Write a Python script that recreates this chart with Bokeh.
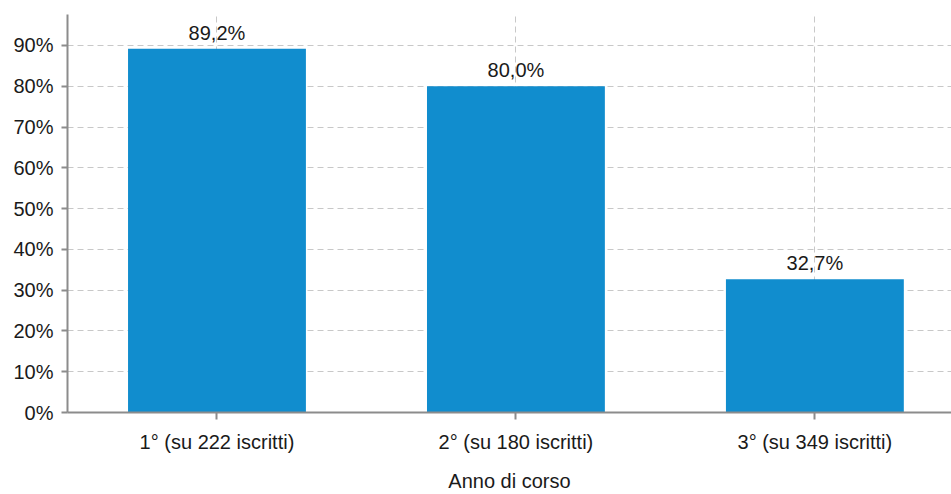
from bokeh.plotting import figure
from bokeh.models import ColumnDataSource, FixedTicker, PrintfTickFormatter, Range1d
from bokeh.embed import file_html
from bokeh.resources import INLINE
from bokeh.core.properties import value

categories = ["1° (su 222 iscritti)", "2° (su 180 iscritti)", "3° (su 349 iscritti)"]
values = [89.2, 80.0, 32.7]
y_ticks = [0, 10, 20, 30, 40, 50, 60, 70, 80, 90]
x_title = "Anno di corso"

xs = [i + 0.5 for i in range(len(categories))]
labels = [f"{v:.1f}".replace(".", ",") + "%" for v in values]
src = ColumnDataSource(dict(x=xs, top=values, label=labels))

FONT = "Liberation Sans"
FS = "20px"
TXT = "#1a1a1a"
AX = "#8c8c8c"

p = figure(width=951, height=494, output_backend="svg", toolbar_location=None,
           x_range=Range1d(0, 2.957), y_range=Range1d(0, 97.6),
           min_border_left=67, min_border_right=0, min_border_top=14, min_border_bottom=82)
p.outline_line_color = None
p.background_fill_color = "white"
p.border_fill_color = "white"

p.vbar(x="x", top="top", width=0.595, bottom=0, source=src, color="#118dce", line_color=None)
p.text(x="x", y="top", text="label", source=src, text_align="center", text_baseline="bottom",
       y_offset=-5, text_font=value(FONT), text_font_size=FS, text_color=TXT)

# axes
p.xaxis.ticker = FixedTicker(ticks=xs)
p.xaxis.major_label_overrides = {x: c for x, c in zip(xs, categories)}
p.xaxis.minor_tick_line_color = None
p.xaxis.major_tick_out = 7
p.xaxis.major_tick_in = 0
p.xaxis.axis_line_color = AX
p.xaxis.axis_line_width = 2
p.xaxis.major_tick_line_color = AX
p.xaxis.major_tick_line_width = 2
p.xaxis.major_label_text_font = FONT
p.xaxis.major_label_text_font_size = FS
p.xaxis.major_label_text_color = TXT
p.xaxis.major_label_standoff = 11
p.xaxis.axis_label = x_title
p.xaxis.axis_label_text_font = FONT
p.xaxis.axis_label_text_font_size = FS
p.xaxis.axis_label_text_font_style = "normal"
p.xaxis.axis_label_text_color = TXT
p.xaxis.axis_label_standoff = 14

p.yaxis.ticker = FixedTicker(ticks=y_ticks)
p.yaxis.formatter = PrintfTickFormatter(format="%d%%")
p.yaxis.minor_tick_line_color = None
p.yaxis.major_tick_out = 6
p.yaxis.major_tick_in = 0
p.yaxis.axis_line_color = AX
p.yaxis.axis_line_width = 2
p.yaxis.major_tick_line_color = AX
p.yaxis.major_tick_line_width = 2
p.yaxis.major_label_text_font = FONT
p.yaxis.major_label_text_font_size = FS
p.yaxis.major_label_text_color = TXT
p.yaxis.major_label_standoff = 8

p.xgrid.ticker = FixedTicker(ticks=xs)
p.xgrid.grid_line_color = "#c8c8c8"
p.xgrid.grid_line_dash = "6 4"
p.ygrid.grid_line_color = "#c8c8c8"
p.ygrid.grid_line_dash = "6 4"

open("out.html", "w").write(file_html(p, INLINE))
